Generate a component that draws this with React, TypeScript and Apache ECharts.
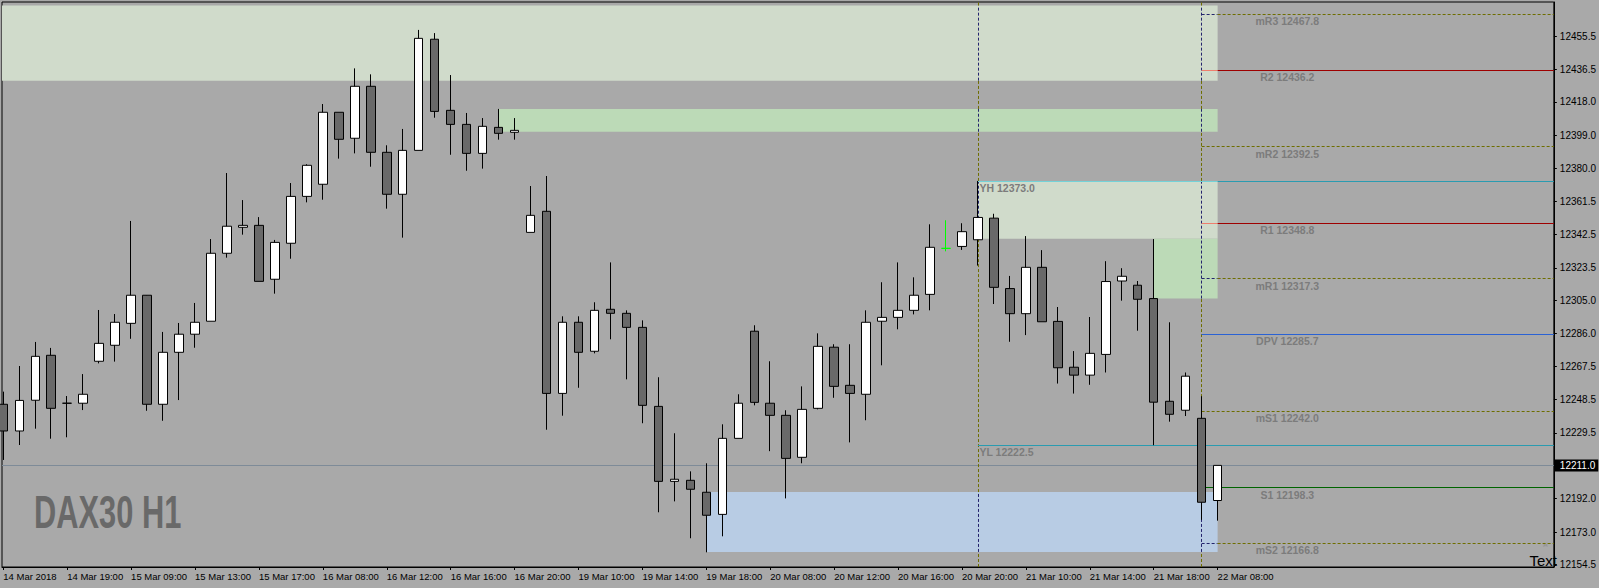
import React, { useEffect, useRef } from "react";
import * as echarts from "echarts";

// ---------- data (hourly candles, DAX30 H1) ----------
const opens = [
  12245.8, 12230.6, 12248.1, 12273.7, 12246.4, 12246.4, 12270.3, 12279.4, 12291.9, 12307.9,
  12245.8, 12275.4, 12285.7, 12293.1, 12331.8, 12346.6, 12347.7, 12317.0, 12337.5, 12364.2,
  12371.1, 12412.1, 12397.3, 12426.9, 12389.3, 12365.4, 12390.4, 12453.7, 12413.2, 12405.2,
  12388.7, 12403.5, 12400.7, 12343.7, 12355.7, 12252.0, 12292.5, 12276.0, 12299.9, 12297.6,
  12289.6, 12244.6, 12201.9, 12202.5, 12195.7, 12183.1, 12226.4, 12287.4, 12246.4, 12239.5,
  12215.6, 12243.5, 12278.3, 12256.6, 12251.5, 12293.1, 12295.3, 12299.3, 12308.4, 12334.6,
  12335.7, 12339.5, 12351.8, 12311.7, 12297.4, 12323.8, 12293.0, 12266.9, 12262.4, 12274.2,
  12316.0, 12313.6, 12306.0, 12247.5, 12242.4, 12237.8, 12191.0,
];
const closes = [
  12230.6, 12248.0, 12273.1, 12243.5, 12246.4, 12251.5, 12280.5, 12292.5, 12307.9, 12245.8,
  12275.4, 12285.7, 12292.5, 12331.8, 12347.2, 12347.7, 12315.8, 12338.0, 12364.2, 12381.9,
  12412.1, 12396.7, 12426.9, 12389.3, 12365.4, 12390.4, 12454.2, 12412.6, 12405.2, 12388.7,
  12404.1, 12400.1, 12401.8, 12353.4, 12252.0, 12292.5, 12275.4, 12299.3, 12297.6, 12289.6,
  12245.2, 12201.9, 12203.1, 12197.4, 12182.6, 12226.4, 12246.4, 12246.9, 12239.5, 12215.0,
  12242.9, 12278.8, 12256.0, 12252.0, 12292.5, 12295.3, 12299.3, 12307.9, 12335.2, 12334.6,
  12344.1, 12352.2, 12312.4, 12297.4, 12323.8, 12292.8, 12266.6, 12262.4, 12274.8, 12315.7,
  12318.7, 12305.6, 12247.0, 12240.1, 12261.8, 12190.0, 12211.0,
];
const highs = [
  12253.0, 12267.6, 12281.3, 12277.9, 12250.5, 12263.0, 12299.5, 12297.2, 12350.2, 12308.0,
  12287.0, 12292.1, 12303.5, 12339.9, 12377.5, 12362.1, 12352.4, 12339.4, 12371.8, 12382.5,
  12416.8, 12412.1, 12437.1, 12433.7, 12393.3, 12402.6, 12459.0, 12457.2, 12433.3, 12411.7,
  12408.8, 12414.0, 12408.8, 12370.1, 12375.8, 12295.9, 12295.9, 12303.9, 12326.6, 12299.3,
  12293.6, 12261.2, 12229.3, 12207.6, 12212.2, 12234.4, 12251.5, 12290.8, 12270.3, 12242.4,
  12256.0, 12286.2, 12280.0, 12280.0, 12299.3, 12315.3, 12326.6, 12318.1, 12348.3, 12350.6,
  12348.9, 12373.0, 12354.3, 12318.9, 12341.6, 12333.6, 12301.2, 12276.1, 12295.5, 12327.3,
  12323.3, 12316.0, 12339.9, 12292.5, 12263.9, 12250.4, 12211.0,
];
const lows = [
  12214.1, 12222.6, 12231.9, 12226.2, 12227.0, 12242.5, 12269.1, 12270.1, 12283.1, 12242.1,
  12236.4, 12248.2, 12278.0, 12293.1, 12329.3, 12342.4, 12315.8, 12308.8, 12328.7, 12360.8,
  12362.3, 12385.7, 12388.7, 12381.1, 12357.2, 12340.7, 12390.4, 12409.0, 12387.9, 12378.8,
  12380.0, 12396.5, 12396.5, 12343.7, 12231.3, 12239.3, 12255.2, 12274.8, 12282.8, 12260.0,
  12235.0, 12184.3, 12190.5, 12169.5, 12161.5, 12170.6, 12226.4, 12245.2, 12219.1, 12192.2,
  12212.2, 12242.9, 12249.5, 12224.1, 12236.7, 12268.0, 12288.5, 12297.0, 12299.3, 12332.9,
  12333.7, 12324.8, 12302.9, 12281.4, 12285.2, 12292.8, 12257.6, 12251.9, 12256.9, 12263.9,
  12304.8, 12287.7, 12222.5, 12235.9, 12239.1, 12180.0, 12179.5,
];
const greenDojiIndex = [59];

const timeTickIndex = [0, 4, 8, 12, 16, 20, 24, 28, 32, 36, 40, 44, 48, 52, 56, 60, 64, 68, 72, 76];
const timeTickLabels = [
  "14 Mar 2018", "14 Mar 19:00", "15 Mar 09:00", "15 Mar 13:00", "15 Mar 17:00",
  "16 Mar 08:00", "16 Mar 12:00", "16 Mar 16:00", "16 Mar 20:00", "19 Mar 10:00",
  "19 Mar 14:00", "19 Mar 18:00", "20 Mar 08:00", "20 Mar 12:00", "20 Mar 16:00",
  "20 Mar 20:00", "21 Mar 10:00", "21 Mar 14:00", "21 Mar 18:00", "22 Mar 08:00",
];

const priceTicks = [
  12455.5, 12436.5, 12418.0, 12399.0, 12380.0, 12361.5, 12342.5, 12323.5, 12305.0,
  12286.0, 12267.5, 12248.5, 12229.5, 12211.0, 12192.0, 12173.0, 12154.5,
];
const currentPrice = 12211.0;

const pivotNames = ["mR3", "R2", "mR2", "R1", "mR1", "DPV", "mS1", "S1", "mS2"];
const pivotValues = [12467.8, 12436.2, 12392.5, 12348.8, 12317.3, 12285.7, 12242.0, 12198.3, 12166.8];
const pivotKinds = ["mid", "res", "mid", "res", "mid", "pivot", "mid", "sup", "mid"];

const yesterdayHigh = 12373.0;
const yesterdayLow = 12222.5;
const dayStartIndex = [61, 75];

// zones (rectangles)
const zoneStartIndex: (number | null)[] = [null, 31, 61, 72, 44];
const zoneEndIndex = 76;
const zoneLow = [12430.1, 12401.0, 12340.1, 12306.0, 12161.7];
const zoneHigh = [12472.9, 12414.0, 12373.0, 12340.1, 12195.8];
const zoneColors = ["#d0dbcb", "#bcdab7", "#d0dbcb", "#bcdab7", "#b8cce4"];

// ---------- view ----------
const X_MIN = -0.08125;
const X_MAX = 97.04375;
const Y_MIN = 12153.13;
const Y_MAX = 12474.9;
const FONT = "Liberation Sans, Arial, sans-serif";
const PIVOT_LABEL_X = 80.36;

const OLIVE = "#6e6e00";
const NAVY = "#24246c";
const RED = "#9e0000";
const SALMON = "#ee7f6e";
const BLUE = "#2a62d4";
const TEAL = "#2a9bb0";
const LABEL_GREY = "#7c7c7c";

export default function App() {
  const ref = useRef<HTMLDivElement>(null);
  useEffect(() => {
    document.body.style.margin = "0";
    const chart = echarts.init(ref.current!, null, { renderer: "svg" });

    const zoneStart = (k: number) => (zoneStartIndex[k] === null ? X_MIN : (zoneStartIndex[k] as number));

    const candleData = opens.map((o, i) => {
      const item: any = { value: [i, o, closes[i], lows[i], highs[i]] };
      if (greenDojiIndex.includes(i)) {
        item.itemStyle = { borderColorDoji: "#00ff00" };
      }
      return item;
    });

    const seg = (x0: number, y0: number, x1: number, y1: number, color: string, dashed: boolean) => [
      { coord: [x0, y0], lineStyle: { color, width: 1, type: dashed ? [3, 2] : "solid" } },
      { coord: [x1, y1] },
    ];

    const markLines: any[] = [];
    // current price line
    markLines.push({
      yAxis: currentPrice,
      lineStyle: { color: "#7e8b98", width: 1, type: "solid" },
      label: {
        show: true,
        position: "end",
        distance: 1,
        formatter: currentPrice.toFixed(1),
        color: "#fff",
        backgroundColor: "#000",
        padding: [1, 3, 1, 5],
        fontSize: 10,
        lineHeight: 10,
        fontFamily: FONT,
      },
    });

    // day separators (olive outside zones, navy inside zones)
    dayStartIndex.forEach((idx) => {
      const covered: [number, number][] = [];
      zoneLow.forEach((lo, k) => {
        if (zoneStart(k) <= idx && idx <= zoneEndIndex) covered.push([lo, zoneHigh[k]]);
      });
      covered.sort((a, b) => a[0] - b[0]);
      let cur = Y_MIN;
      covered.forEach(([lo, hi]) => {
        if (lo > cur) markLines.push(seg(idx, cur, idx, lo, OLIVE, true));
        markLines.push(seg(idx, lo, idx, hi, NAVY, true));
        cur = Math.max(cur, hi);
      });
      if (cur < Y_MAX) markLines.push(seg(idx, cur, idx, Y_MAX, OLIVE, true));
    });

    // yesterday high / low
    markLines.push(seg(61, yesterdayHigh, zoneEndIndex, yesterdayHigh, "#74d2d8", false));
    markLines.push(seg(zoneEndIndex, yesterdayHigh, X_MAX, yesterdayHigh, TEAL, false));
    markLines.push(seg(61, yesterdayLow, X_MAX, yesterdayLow, TEAL, false));

    // pivot lines
    const startIdx = dayStartIndex[1];
    pivotValues.forEach((v, i) => {
      const kind = pivotKinds[i];
      const base = kind === "mid" ? OLIVE : kind === "res" ? RED : kind === "pivot" ? BLUE : "#006400";
      const over = kind === "mid" ? NAVY : kind === "res" ? SALMON : base;
      const dashed = kind === "mid";
      const inZone = zoneLow.some(
        (lo, k) => zoneStart(k) <= startIdx && v >= lo && v <= zoneHigh[k]
      );
      if (inZone) {
        markLines.push(seg(startIdx, v, zoneEndIndex, v, over, dashed));
        markLines.push(seg(zoneEndIndex, v, X_MAX, v, base, dashed));
      } else {
        markLines.push(seg(startIdx, v, X_MAX, v, base, dashed));
      }
    });

    const markAreas = zoneLow.map((lo, k) => [
      { coord: [zoneStart(k), zoneHigh[k]], itemStyle: { color: zoneColors[k] } },
      { coord: [zoneEndIndex, lo] },
    ]);

    const labelStyle = {
      show: true,
      position: "inside",
      color: LABEL_GREY,
      fontWeight: "bold",
      fontSize: 10.5,
      fontFamily: FONT,
    };
    const markPoints: any[] = pivotValues.map((v, i) => ({
      coord: [PIVOT_LABEL_X, v],
      label: { ...labelStyle, offset: [0, 7], formatter: `${pivotNames[i]} ${v.toFixed(1)}` },
    }));
    markPoints.push({
      coord: [61, yesterdayHigh],
      label: { ...labelStyle, align: "left", offset: [1.5, 7], formatter: `YH ${yesterdayHigh.toFixed(1)}` },
    });
    markPoints.push({
      coord: [61, yesterdayLow],
      label: { ...labelStyle, align: "left", offset: [1.5, 7], formatter: `YL ${yesterdayLow.toFixed(1)}` },
    });

    const option: any = {
      animation: false,
      backgroundColor: "#a9a9a9",
      grid: {
        left: 2,
        top: 2,
        right: 43,
        bottom: 21,
        show: true,
        borderColor: "#000",
        borderWidth: 1,
        backgroundColor: "transparent",
      },
      xAxis: {
        type: "value",
        min: X_MIN,
        max: X_MAX,
        splitLine: { show: false },
        axisLine: { show: true, onZero: false, lineStyle: { color: "#000", width: 1 } },
        axisTick: { show: true, customValues: timeTickIndex, length: 3, lineStyle: { color: "#000" } },
        axisLabel: {
          customValues: timeTickIndex,
          formatter: (v: number) => {
            const k = timeTickIndex.indexOf(Math.round(v));
            return k >= 0 ? timeTickLabels[k] : "";
          },
          align: "left",
          margin: 4,
          color: "#000",
          fontSize: 9.5,
          fontFamily: FONT,
        },
      },
      yAxis: {
        type: "value",
        position: "right",
        min: Y_MIN,
        max: Y_MAX,
        splitLine: { show: false },
        axisLine: { show: true, onZero: false, lineStyle: { color: "#000", width: 1 } },
        axisTick: { show: true, customValues: priceTicks, length: 3, lineStyle: { color: "#000" } },
        axisLabel: {
          customValues: priceTicks.filter((p) => p !== currentPrice),
          formatter: (v: number) => v.toFixed(1),
          margin: 6,
          color: "#000",
          fontSize: 10,
          fontFamily: FONT,
        },
      },
      series: [
        {
          type: "line",
          name: "levels",
          data: [],
          z: 1,
          silent: true,
          clip: false,
          markArea: { silent: true, z: 1, data: markAreas },
          markLine: {
            silent: true,
            z: 2,
            symbol: ["none", "none"],
            label: { show: false },
            data: markLines,
          },
          markPoint: {
            silent: true,
            z: 5,
            symbol: "rect",
            symbolSize: 1,
            itemStyle: { color: "rgba(0,0,0,0)" },
            data: markPoints,
          },
        },
        {
          type: "candlestick",
          name: "DAX30,H1",
          z: 3,
          silent: true,
          barWidth: 9,
          data: candleData,
          itemStyle: {
            color: "#ffffff",
            color0: "#696969",
            borderColor: "#000000",
            borderColor0: "#000000",
            borderColorDoji: "#000000",
            borderWidth: 1,
          },
        },
      ],
      graphic: [
        { type: "polygon", shape: { points: [[6, 8.5], [12, 8.5], [9, 12.5]] }, style: { fill: "#000" } },
        {
          type: "text",
          x: 18,
          y: 10,
          style: {
            text: "DAX30,H1  12191.0 12211.0 12179.5 12211.0",
            font: `9.5px ${FONT}`,
            fill: "#000",
            textVerticalAlign: "middle",
          },
        },
        {
          type: "text",
          x: 7,
          y: 24,
          style: {
            text: "Range: Yesterday 1505 pips, Today 705 pips",
            font: `9.5px ${FONT}`,
            fill: "#000",
            textVerticalAlign: "middle",
          },
        },
        {
          type: "text",
          x: 34,
          y: 512,
          scaleX: 0.67,
          style: {
            text: "DAX30 H1",
            font: `bold 46px ${FONT}`,
            fill: "#696969",
            textVerticalAlign: "middle",
          },
        },
        {
          type: "text",
          x: 1545.5,
          y: 545,
          style: {
            text: "☠",
            font: "7px DejaVu Sans",
            fill: "#8a8a8a",
            textAlign: "center",
            textVerticalAlign: "middle",
          },
        },
        {
          type: "text",
          x: 1557,
          y: 560,
          style: {
            text: "Text",
            font: `15px ${FONT}`,
            fill: "#000",
            textAlign: "right",
            textVerticalAlign: "middle",
          },
        },
      ],
    };

    chart.setOption(option);
    return () => chart.dispose();
  }, []);
  return <div ref={ref} style={{ width: 1599, height: 588 }} />;
}
